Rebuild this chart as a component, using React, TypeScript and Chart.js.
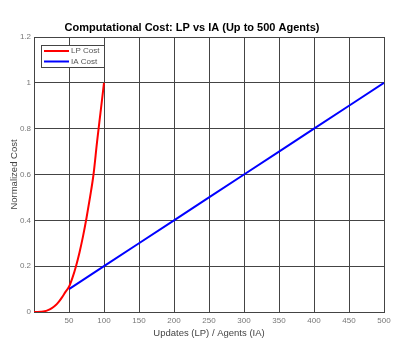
import React, { useEffect, useRef } from "react";
import { Chart, registerables } from "chart.js";

Chart.register(...registerables);

const TITLE = "Computational Cost: LP vs IA (Up to 500 Agents)";
const X_TITLE = "Updates (LP) / Agents (IA)";
const Y_TITLE = "Normalized Cost";

const lpX = [0, 5, 10, 15, 20, 25, 30, 35, 40, 45, 50, 55, 60, 65, 70, 75, 80, 85, 90, 95, 100];
const lpCost = [0, 0.0002, 0.001, 0.003, 0.008, 0.016, 0.027, 0.043, 0.064, 0.088, 0.11, 0.15, 0.2, 0.26, 0.33, 0.41, 0.5, 0.6, 0.74, 0.87, 1.0];

const iaX = [50, 100, 150, 200, 250, 300, 350, 400, 450, 500];
const iaCost = [0.1, 0.2, 0.3, 0.4, 0.5, 0.6, 0.7, 0.8, 0.9, 1.0];

const FONT = "Arial, 'Liberation Sans', sans-serif";
const GRID = "#444444";

const insideLegend = {
  id: "insideLegend",
  afterDraw(chart: any) {
    const { ctx, chartArea } = chart;
    const x = chartArea.left + 7;
    const y = chartArea.top + 8;
    const w = 63;
    const h = 22;
    ctx.save();
    ctx.fillStyle = "#ffffff";
    ctx.fillRect(x, y, w, h);
    ctx.strokeStyle = GRID;
    ctx.lineWidth = 1;
    ctx.strokeRect(x + 0.5, y + 0.5, w, h);
    ctx.font = `8px ${FONT}`;
    ctx.textBaseline = "middle";
    ctx.textAlign = "left";
    chart.data.datasets.forEach((ds: any, i: number) => {
      const ly = y + 6 + i * 10.5;
      ctx.strokeStyle = ds.borderColor;
      ctx.lineWidth = 2;
      ctx.beginPath();
      ctx.moveTo(x + 3, ly);
      ctx.lineTo(x + 28, ly);
      ctx.stroke();
      ctx.fillStyle = "#555555";
      ctx.fillText(ds.label, x + 30, ly);
    });
    ctx.restore();
  },
};

export default function App() {
  const ref = useRef<HTMLCanvasElement | null>(null);

  useEffect(() => {
    if (!ref.current) return;
    const chart = new Chart(ref.current, {
      type: "line",
      data: {
        datasets: [
          {
            label: "LP Cost",
            data: lpX.map((x, i) => ({ x, y: lpCost[i] })),
            borderColor: "#ff0000",
            backgroundColor: "#ff0000",
            borderWidth: 2,
            pointRadius: 0,
            cubicInterpolationMode: "monotone",
          },
          {
            label: "IA Cost",
            data: iaX.map((x, i) => ({ x, y: iaCost[i] })),
            borderColor: "#0000ff",
            backgroundColor: "#0000ff",
            borderWidth: 2,
            pointRadius: 0,
          },
        ],
      },
      options: {
        responsive: false,
        animation: false,
        devicePixelRatio: 1,
        layout: { padding: { left: 0, right: 32, top: 0, bottom: 0 } },
        plugins: {
          legend: { display: false },
          tooltip: { enabled: false },
          title: {
            display: true,
            text: TITLE,
            color: "#000000",
            font: { family: FONT, size: 11, weight: "bold" },
            padding: { top: 21.4, bottom: 2.4 },
          },
        },
        scales: {
          x: {
            type: "linear",
            min: 0,
            max: 500,
            afterFit: (s: any) => {
              s.height = 40;
            },
            ticks: {
              stepSize: 50,
              color: "#777777",
              font: { family: FONT, size: 8 },
              padding: 4,
              maxRotation: 0,
              callback: (v: any) => (v === 0 ? "" : String(v)),
            },
            grid: { color: GRID, lineWidth: 1, drawTicks: false },
            border: { color: GRID, width: 1 },
            title: {
              display: true,
              text: X_TITLE,
              color: "#444444",
              font: { family: FONT, size: 9.5 },
              padding: { top: 0, bottom: 13.3 },
            },
          },
          y: {
            type: "linear",
            min: 0,
            max: 1.2,
            afterFit: (s: any) => {
              s.width = 34;
            },
            ticks: {
              stepSize: 0.2,
              color: "#777777",
              font: { family: FONT, size: 8 },
              padding: 3,
              callback: (v: any) => String(Number(Number(v).toFixed(1))),
            },
            grid: { color: GRID, lineWidth: 1, drawTicks: false },
            border: { color: GRID, width: 1 },
            title: {
              display: true,
              text: Y_TITLE,
              color: "#444444",
              font: { family: FONT, size: 9.5 },
              padding: { top: 8.3, bottom: 0 },
            },
          },
        },
      },
      plugins: [insideLegend],
    } as any);
    return () => chart.destroy();
  }, []);

  return (
    <div style={{ position: "fixed", left: 0, top: 0, width: 416, height: 352, background: "#ffffff" }}>
      <canvas ref={ref} width={416} height={352} />
    </div>
  );
}
